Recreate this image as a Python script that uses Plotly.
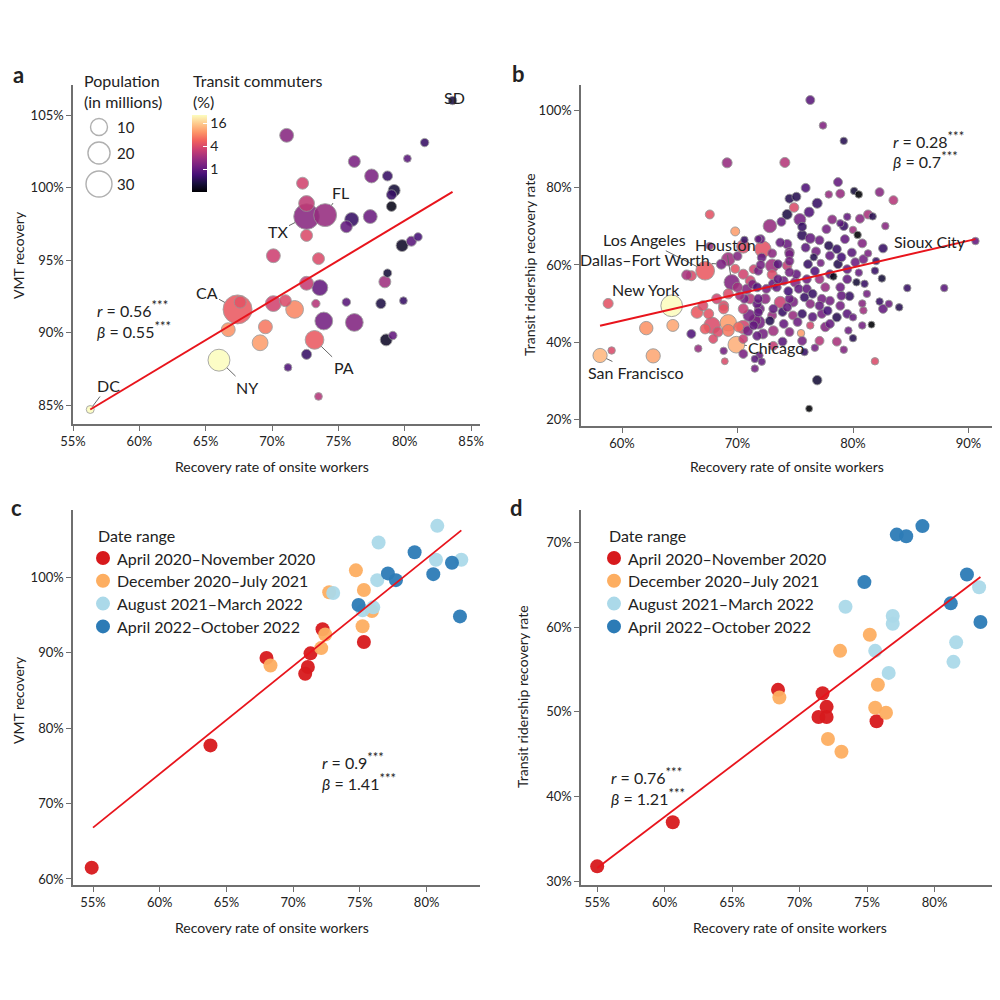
import numpy as np
import plotly.graph_objects as go

FONT = "Lato"
TXT = "#222222"
AXC = "#6f6f6f"

# ---------------- Panel a : states ----------------
a_state = ["SD", "", "", "", "", "", "", "", "", "", "", "", "TX", "FL", "", "", "", "", "", "", "",
           "", "", "", "", "", "", "", "", "", "", "", "", "", "CA", "", "", "", "", "", "", "PA",
           "", "", "", "NY", "", "", "DC"]
a_onsite = [83.6, 81.5, 80.2, 71.1, 76.2, 77.5, 78.7, 79.2, 79.0, 79.0, 72.3, 72.6, 72.6, 74.0, 76.0,
            75.6, 77.4, 72.6, 70.1, 73.5, 79.8, 80.5, 81.0, 78.7, 78.5, 72.6, 73.6, 73.3, 75.6, 78.2,
            79.9, 70.1, 71.0, 71.7, 67.4, 67.6, 66.7, 69.5, 69.1, 73.9, 76.2, 73.2, 72.6, 78.6, 79.1,
            66.0, 71.2, 73.5, 56.3]
a_vmt = [106.0, 103.1, 102.0, 103.6, 101.8, 100.8, 100.8, 99.8, 99.5, 98.7, 100.3, 98.9, 98.0, 98.1,
         97.8, 97.3, 98.0, 96.7, 95.3, 95.1, 96.0, 96.3, 96.6, 94.1, 93.5, 93.4, 93.1, 92.0, 92.1, 92.0,
         92.2, 92.0, 92.2, 91.6, 91.6, 92.1, 90.2, 90.4, 89.3, 90.8, 90.7, 89.5, 88.5, 89.5, 89.8, 88.1,
         87.6, 85.6, 84.7]
a_pop = [0.9, 0.9, 0.6, 5.6, 3.5, 5.6, 1.9, 3.5, 1.9, 1.9, 3.5, 8.2, 29.0, 22.0, 5.6, 3.5, 5.6, 3.5,
         5.6, 3.5, 3.5, 1.9, 0.9, 0.9, 3.5, 5.6, 8.2, 0.9, 0.9, 1.9, 0.6, 8.2, 3.5, 11.3, 39.0, 3.5,
         5.6, 5.6, 8.2, 11.3, 11.3, 13.0, 1.9, 3.5, 0.9, 19.6, 0.6, 0.6, 0.7]
a_transit = [0.45, 0.6, 0.9, 1.5, 1.3, 1.3, 0.6, 0.4, 0.6, 0.3, 3.5, 2.8, 1.5, 1.8, 0.6, 1.0, 1.1, 4.0,
             3.3, 4.0, 0.35, 0.9, 0.7, 0.4, 2.0, 3.0, 1.0, 2.5, 0.9, 0.45, 0.6, 3.5, 4.0, 8.0, 5.0, 4.5,
             9.0, 7.0, 10.0, 1.2, 1.4, 5.0, 0.6, 0.35, 1.0, 28.0, 0.8, 2.5, 30.0]
a_fit_x = [56.3, 83.6]
a_fit_y = [84.7, 99.7]
STARS = "<sup><span style='font-size:13px'>***</span></sup>"
a_stats = ["<i>r</i> = 0.56" + STARS, "<i>β</i> = 0.55" + STARS]

# ---------------- Panel b : metro areas ----------------
b_city = {"Los Angeles": 111, "Houston": 114, "Dallas–Fort Worth": 110, "New York": 122,
          "San Francisco": 135, "Chicago": 132, "Sioux City": 39}
b_onsite = [76.3, 77.4, 79.2, 74.1, 78.7, 75.9, 77.9, 78.9, 80.1, 80.5, 82.3, 83.5, 74.5, 75.1, 76.9,
            74.9, 74.3, 75.4, 76.2, 73.8, 81.3, 81.7, 82.8, 78.2, 78.9, 79.2, 80.0, 80.4, 72.8, 72.0,
            75.6, 76.3, 77.1, 79.3, 80.8, 82.6, 78.0, 77.2, 79.9, 90.6, 74.3, 74.5, 72.2, 73.7, 74.5,
            76.1, 77.1, 78.0, 78.7, 79.5, 80.2, 80.9, 81.9, 79.5, 80.3, 81.0, 78.9, 79.7, 77.6, 78.0,
            77.3, 78.6, 79.5, 80.0, 80.9, 81.6, 80.8, 77.6, 76.3, 78.6, 75.5, 75.8, 81.9, 76.9, 76.2,
            84.7, 87.9, 82.6, 83.1, 84.0, 71.9, 71.5, 74.0, 74.8, 75.6, 73.7, 74.5, 75.8, 71.5, 73.0,
            70.5, 70.6, 71.7, 72.5, 73.4, 74.0, 75.1, 74.5, 73.0, 71.4, 74.3, 75.3, 76.0, 72.1, 78.6,
            67.6, 69.8, 67.6, 71.8, 69.2, 68.6, 67.2, 66.0, 65.6, 69.5, 71.1, 70.5, 71.8, 70.2, 68.8,
            67.5, 66.5, 64.3, 58.8, 64.4, 62.1, 67.8, 69.2, 69.2, 68.3, 70.1, 66.0, 69.9, 66.6, 68.9,
            58.1, 59.1, 62.7, 71.0, 71.8, 71.8, 71.4, 69.1,
            70.5, 73.5, 74.5, 73.5, 71.3, 73.1, 74.4, 76.0, 76.7, 77.3, 76.3, 74.8, 72.4, 71.9, 73.1,
            73.9, 75.2, 76.5, 77.1, 77.8, 78.9, 78.0, 74.5, 73.1, 72.2, 73.9, 73.1, 75.6, 77.1, 72.1,
            71.1, 70.5, 71.8, 70.8, 71.7, 70.0, 69.2, 68.2, 68.8, 67.0, 70.9, 71.7, 70.5, 67.9, 67.2,
            68.8, 71.5, 70.5, 75.6, 77.7, 79.5, 80.6, 76.8, 75.9, 77.9, 81.3, 82.0, 79.0, 80.5, 82.5,
            81.2, 79.0, 82.3, 80.8, 76.5, 75.0, 73.0, 72.0, 69.8, 70.0, 70.6, 73.0, 76.6, 78.3, 72.8,
            74.3, 79.6, 80.0, 76.7, 79.2]
b_ridership = [102.8, 96.2, 92.2, 86.6, 81.5, 80.0, 78.3, 78.5, 79.2, 78.3, 78.9, 76.8, 77.2, 77.7,
               76.0, 74.9, 73.1, 71.8, 73.7, 71.2, 73.1, 72.6, 70.1, 71.8, 70.8, 70.1, 69.1, 67.8,
               70.1, 66.7, 67.7, 66.9, 66.4, 66.7, 65.6, 64.3, 62.4, 60.5, 63.2, 66.2, 65.4, 63.3,
               64.1, 65.8, 62.8, 60.2, 56.3, 57.6, 60.2, 58.9, 60.7, 61.5, 58.5, 56.3, 55.5, 55.1,
               54.2, 51.9, 54.2, 50.7, 47.3, 46.4, 47.3, 46.4, 48.2, 44.5, 44.3, 43.9, 44.3, 40.1,
               42.3, 37.4, 35.0, 30.1, 22.7, 54.0, 54.0, 48.6, 49.9, 49.0, 36.5, 33.1, 44.7, 46.9,
               47.3, 50.3, 51.2, 51.6, 45.6, 46.9, 43.9, 51.2, 49.9, 53.8, 54.2, 55.9, 57.6, 58.1,
               59.8, 58.9, 59.8, 53.8, 53.8, 61.9, 64.1, 73.1, 68.7, 64.9, 66.7, 61.5, 60.2, 58.5,
               57.2, 57.4, 55.5, 55.9, 57.6, 58.5, 52.0, 49.4, 47.3, 47.7, 49.4, 50.0, 44.3, 43.6,
               44.3, 45.0, 43.0, 42.6, 43.9, 42.1, 39.3, 38.3, 35.0, 36.5, 37.8, 36.4, 46.9, 47.7,
               45.1, 44.3, 86.5,
               64.8, 56.3, 61.0, 60.2, 55.0, 55.0, 53.2, 56.3, 58.4, 51.2, 49.9, 50.4, 51.2, 48.6,
               48.6, 47.8, 45.2, 46.5, 49.4, 48.1, 49.4, 44.7, 42.6, 42.9, 42.1, 40.1, 39.0, 40.3,
               40.3, 34.9, 51.2, 48.6, 51.2, 53.7, 54.2, 54.2, 52.5, 51.2, 48.6, 49.4, 42.9, 41.6,
               40.8, 40.8, 43.4, 37.7, 35.6, 36.9, 69.9, 69.3, 72.5, 72.0, 63.5, 64.5, 65.0, 63.0,
               61.0, 62.0, 58.0, 56.5, 52.5, 52.0, 50.5, 50.0, 52.5, 55.5, 57.5, 60.0, 59.0, 62.3,
               66.5, 63.0, 62.0, 57.0, 45.5, 49.0, 43.0, 41.0, 38.5, 38.0]
b_pop = [1.2, 0.5, 0.5, 1.9, 1.2, 1.2, 0.5, 1.2, 0.5, 0.5, 1.2, 1.2, 1.2, 1.2, 1.9, 1.5, 1.9, 3.5,
         1.9, 1.2, 1.2, 0.5, 0.5, 1.2, 0.5, 1.2, 0.5, 0.5, 5.0, 1.2, 1.9, 1.9, 1.2, 1.2, 1.2, 1.2,
         1.2, 0.5, 1.2, 0.5, 1.5, 1.5, 9.0, 1.2, 1.2, 1.2, 1.2, 1.2, 1.2, 1.2, 1.2, 1.2, 0.5, 1.2,
         0.5, 0.5, 1.2, 1.2, 1.2, 1.2, 1.2, 1.2, 1.2, 0.5, 0.5, 0.3, 0.5, 1.5, 0.5, 1.2, 0.5, 0.5,
         0.5, 1.5, 0.3, 0.5, 0.5, 1.2, 0.5, 0.5, 0.5, 0.5, 1.2, 1.2, 1.2, 3.5, 1.2, 1.2, 3.5, 1.2,
         5.0, 1.2, 1.2, 1.2, 1.2, 1.2, 1.2, 1.2, 5.0, 1.2, 1.5, 1.2, 1.2, 1.2, 1.2, 1.2, 1.2, 0.5,
         0.5, 5.0, 1.9, 13.0, 1.9, 1.9, 7.5, 1.9, 1.9, 1.2, 1.2, 1.9, 1.9, 3.5, 19.0, 1.9, 3.5,
         5.0, 9.0, 9.0, 3.5, 1.9, 1.9, 1.2, 9.5, 0.5, 0.3, 6.0, 0.5, 6.0, 3.5, 1.2, 5.0, 1.2, 1.9,
         5.0, 1.2, 1.2, 1.2, 1.2, 1.9, 1.2, 1.2, 1.2, 1.2, 1.2, 1.9, 1.9, 1.9, 1.2, 1.2, 1.2, 1.2,
         1.2, 1.2, 1.2, 1.2, 1.2, 1.9, 1.9, 1.2, 1.2, 1.2, 1.2, 0.5, 1.9, 1.9, 1.2, 1.9, 1.2, 1.9,
         1.9, 1.9, 1.9, 1.9, 1.9, 1.2, 1.2, 1.2, 1.9, 0.5, 0.5, 1.2, 1.2, 1.2, 0.5, 1.2, 1.2, 1.2,
         1.2, 0.5, 0.5, 1.2, 0.5, 0.5, 0.5, 1.2, 0.5, 0.5, 1.2, 1.9, 1.9, 1.2, 1.2, 1.2, 0.5, 1.2,
         0.5, 0.5, 1.2, 1.2, 0.5, 0.5, 0.5, 0.5]
b_transit = [0.9, 1.4, 0.5, 2.5, 1.0, 0.8, 1.8, 1.8, 0.4, 0.25, 1.5, 2.5, 0.5, 0.5, 0.6, 4.0, 0.45,
             1.2, 0.8, 1.0, 2.2, 0.5, 1.5, 1.5, 0.9, 0.6, 2.0, 0.25, 1.8, 1.0, 0.55, 1.0, 1.1, 1.0,
             1.4, 0.6, 1.0, 1.2, 0.9, 1.0, 1.1, 1.3, 4.5, 1.0, 1.2, 0.6, 2.0, 0.9, 0.5, 1.0, 1.1,
             1.2, 0.6, 1.0, 0.4, 0.6, 1.1, 0.6, 1.8, 1.2, 1.2, 0.5, 0.9, 1.0, 2.0, 0.25, 1.2, 1.4,
             3.5, 2.2, 10.0, 0.6, 4.0, 0.4, 0.25, 0.6, 0.9, 1.0, 1.1, 0.5, 1.1, 1.2, 1.0, 1.8, 0.6,
             3.2, 1.1, 0.6, 1.3, 1.8, 3.5, 1.2, 1.0, 1.2, 1.1, 1.2, 1.0, 1.2, 2.0, 3.5, 3.0, 1.0,
             1.0, 1.0, 0.6, 4.5, 10.0, 1.8, 1.0, 2.0, 1.3, 5.0, 4.0, 2.2, 1.4, 3.5, 3.5, 1.2, 2.0,
             4.0, 4.5, 5.0, 28.0, 4.5, 11.0, 9.0, 4.0, 10.0, 7.0, 4.0, 6.0, 0.8, 12.0, 1.8, 4.0,
             13.0, 4.0, 11.0, 1.2, 1.0, 1.2, 1.0, 1.8,
             4.0, 1.0, 1.2, 0.9, 1.3, 1.0, 0.7, 1.1, 0.8, 1.2, 1.5, 1.3, 1.6, 1.2, 1.0, 0.6, 1.1,
             0.9, 1.0, 0.7, 1.2, 1.0, 1.4, 2.0, 1.2, 0.9, 3.0, 1.2, 2.5, 1.0, 2.5, 3.0, 1.0, 1.4,
             0.8, 2.0, 4.0, 3.5, 4.5, 4.0, 1.2, 1.0, 3.0, 4.0, 5.0, 1.2, 0.9, 1.3, 0.6, 1.2, 1.0,
             1.5, 1.2, 0.9, 0.5, 1.3, 0.6, 0.7, 1.0, 0.4, 1.2, 1.0, 0.6, 1.5, 0.6, 1.4, 4.0, 1.2,
             4.5, 1.4, 0.6, 1.6, 0.5, 0.3, 0.5, 1.0, 1.1, 0.5, 1.2, 1.4]
b_fit_x = [58.1, 90.6]
b_fit_y = [44.2, 66.7]
b_stats = ["<i>r</i> = 0.28" + STARS, "<i>β</i> = 0.7" + STARS]

# ---------------- Panels c & d : national monthly ----------------
periods = ["April 2020–November 2020", "December 2020–July 2021",
           "August 2021–March 2022", "April 2022–October 2022"]
period_colors = ["#d7191c", "#fdae61", "#abd9e9", "#2c7bb6"]

c_x = [[54.9, 63.8, 68.0, 71.3, 71.1, 70.9, 72.2, 75.3],
       [68.3, 72.4, 72.1, 72.7, 74.7, 75.3, 75.2, 75.9],
       [73.0, 76.4, 76.3, 75.2, 76.0, 80.8, 80.7, 82.6],
       [74.9, 77.1, 77.7, 79.1, 80.5, 81.9, 82.5]]
c_y = [[61.5, 77.7, 89.3, 89.9, 88.1, 87.2, 93.1, 91.4],
       [88.3, 92.4, 90.6, 98.0, 100.9, 98.3, 93.5, 95.5],
       [97.9, 104.6, 99.6, 95.6, 96.0, 106.8, 102.3, 102.3],
       [96.3, 100.5, 99.6, 103.3, 100.4, 101.9, 94.8]]
c_fit_x = [55.0, 82.6]
c_fit_y = [66.8, 106.2]
c_stats = ["<i>r</i> = 0.9" + STARS, "<i>β</i> = 1.41" + STARS]

d_x = [[55.0, 60.6, 68.4, 71.7, 72.0, 71.4, 72.0, 75.7],
       [68.5, 72.1, 73.1, 73.0, 75.2, 75.8, 75.6, 76.4],
       [73.4, 75.6, 76.6, 76.9, 76.9, 81.6, 81.4, 83.3],
       [74.8, 77.2, 77.9, 79.1, 82.4, 81.2, 83.4]]
d_y = [[31.8, 37.0, 52.6, 52.2, 50.6, 49.4, 49.4, 48.9],
       [51.7, 46.8, 45.3, 57.2, 59.1, 53.2, 50.5, 49.9],
       [62.4, 57.2, 54.6, 61.3, 60.4, 58.2, 55.9, 64.7],
       [65.3, 70.9, 70.7, 71.9, 66.2, 62.8, 60.6]]
d_fit_x = [55.0, 83.4]
d_fit_y = [31.6, 65.9]
d_stats = ["<i>r</i> = 0.76" + STARS, "<i>β</i> = 1.21" + STARS]

x_title = "Recovery rate of onsite workers"
vmt_title = "VMT recovery"
rid_title = "Transit ridership recovery rate"
size_legend_vals = [10, 20, 30]
transit_ticks = [1, 4, 16]

# ---------------- helpers ----------------
W = 992      # figure size; the page's default 8px body margin completes the 1000px window
OFF = 8

def diam(pop):
    return 4.7 + 3.89 * np.sqrt(np.asarray(pop, dtype=float))

def px(x):  # window pixel -> paper x
    return (x - OFF) / W

def py(y):  # window pixel -> paper y
    return 1 - (y - OFF) / W

fig = go.Figure()

# panel a bubbles (largest first)
order = np.argsort(-np.asarray(a_pop), kind="stable")
fig.add_trace(go.Scatter(
    x=np.asarray(a_onsite)[order], y=np.asarray(a_vmt)[order], mode="markers",
    marker=dict(size=diam(np.asarray(a_pop)[order]), sizemode="diameter",
                color=np.log10(np.asarray(a_transit)[order]), coloraxis="coloraxis",
                opacity=0.88, line=dict(color="rgba(150,150,150,0.9)", width=1)),
    xaxis="x", yaxis="y", showlegend=False, hoverinfo="skip"))
fig.add_trace(go.Scatter(x=a_fit_x, y=a_fit_y, mode="lines", line=dict(color="#e8141c", width=2),
                         xaxis="x", yaxis="y", showlegend=False))

# panel b bubbles
order = np.argsort(-np.asarray(b_pop), kind="stable")
fig.add_trace(go.Scatter(
    x=np.asarray(b_onsite)[order], y=np.asarray(b_ridership)[order], mode="markers",
    marker=dict(size=diam(np.asarray(b_pop)[order]), sizemode="diameter",
                color=np.log10(np.asarray(b_transit)[order]), coloraxis="coloraxis",
                opacity=0.88, line=dict(color="rgba(140,140,140,0.9)", width=1)),
    xaxis="x2", yaxis="y2", showlegend=False, hoverinfo="skip"))
fig.add_trace(go.Scatter(x=b_fit_x, y=b_fit_y, mode="lines", line=dict(color="#e8141c", width=2),
                         xaxis="x2", yaxis="y2", showlegend=False))

# panels c, d
for xs, ys, fx, fy, xa, ya in [(c_x, c_y, c_fit_x, c_fit_y, "x3", "y3"),
                               (d_x, d_y, d_fit_x, d_fit_y, "x4", "y4")]:
    for i, name in enumerate(periods):
        fig.add_trace(go.Scatter(x=xs[i], y=ys[i], mode="markers", name=name,
                                 marker=dict(size=14, color=period_colors[i], opacity=0.95),
                                 xaxis=xa, yaxis=ya, showlegend=False))
    fig.add_trace(go.Scatter(x=fx, y=fy, mode="lines", line=dict(color="#e8141c", width=1.8),
                             xaxis=xa, yaxis=ya, showlegend=False))

def axis(domain, rng, tickvals, anchor):
    return dict(domain=domain, range=rng, tickmode="array", tickvals=tickvals,
                ticktext=[f"{v}%" for v in tickvals], anchor=anchor, automargin=False,
                showline=True, linecolor=AXC, linewidth=1.5, ticks="outside", ticklen=5,
                tickwidth=1.3, tickcolor=AXC, showgrid=False, zeroline=False,
                tickfont=dict(family=FONT, size=13, color=TXT))

layout = dict(
    template="none",
    width=W, height=W, margin=dict(l=0, r=0, t=0, b=0, autoexpand=False),
    paper_bgcolor="white", plot_bgcolor="white", font=dict(family=FONT, color=TXT),
    xaxis=axis([px(73), px(480)], [55.0, 85.67], [55, 60, 65, 70, 75, 80, 85], "y"),
    yaxis=axis([py(424), py(85)], [83.7, 107.07], [85, 90, 95, 100, 105], "x"),
    xaxis2=axis([px(581), px(993)], [56.45, 92.12], [60, 70, 80, 90], "y2"),
    yaxis2=axis([py(426), py(85)], [18.2, 106.7], [20, 40, 60, 80, 100], "x2"),
    xaxis3=axis([px(73), px(480)], [53.5, 84.0], [55, 60, 65, 70, 75, 80], "y3"),
    yaxis3=axis([py(885), py(510)], [59.2, 108.9], [60, 70, 80, 90, 100], "x3"),
    xaxis4=axis([px(581), px(993)], [53.8, 84.33], [55, 60, 65, 70, 75, 80], "y4"),
    yaxis4=axis([py(885), py(510)], [29.6, 73.8], [30, 40, 50, 60, 70], "x4"),
    coloraxis=dict(
        colorscale="Magma", cmin=np.log10(0.25), cmax=np.log10(26),
        colorbar=dict(x=px(192), xanchor="left", y=py(115), yanchor="top",
                      len=77, lenmode="pixels", thickness=15, thicknessmode="pixels",
                      outlinewidth=0, xpad=0, ypad=0,
                      tickvals=np.log10(transit_ticks).tolist(),
                      ticktext=[str(t) for t in transit_ticks],
                      ticks="inside", ticklen=4, tickcolor="white",
                      tickfont=dict(family=FONT, size=14, color=TXT))),
)
fig.update_layout(**layout)

ann = []
def text(x, y, s, size=16, xanchor="center", angle=0, bold=False):
    ann.append(dict(x=px(x), y=py(y), xref="paper", yref="paper", text=(f"<b>{s}</b>" if bold else s),
                    showarrow=False, xanchor=xanchor, yanchor="middle", textangle=angle, align="left",
                    font=dict(family=FONT, size=size, color=TXT)))

# panel letters
text(18, 75, "a", 22, bold=True, xanchor="center")
text(518, 73, "b", 22, bold=True, xanchor="center")
text(16, 507, "c", 22, bold=True, xanchor="center")
text(516, 507, "d", 22, bold=True, xanchor="center")

# axis titles
text(272, 466, x_title, 14); text(787, 466, x_title, 14)
text(272, 927, x_title, 14); text(790, 927, x_title, 14)
text(18, 255, vmt_title, 14, angle=-90); text(530, 265, rid_title, 14, angle=-90)
text(18, 700, vmt_title, 14, angle=-90); text(522, 697, rid_title, 14, angle=-90)

# stats
for (x0, y0, stats) in [(95, 308, a_stats), (891, 139, b_stats), (320, 760, c_stats), (609, 775, d_stats)]:
    text(x0, y0, stats[0], xanchor="left")
    text(x0, y0 + 21, stats[1], xanchor="left")

# size legend + colorbar title
text(82, 91, "Population<br>(in millions)", xanchor="left")
text(191, 91, "Transit commuters<br>(%)", xanchor="left")
shapes = []
for v, cy in zip(size_legend_vals, [127, 153, 184]):
    r = diam(v) / 2
    shapes.append(dict(type="circle", xref="paper", yref="paper", x0=px(99 - r), x1=px(99 + r),
                       y0=py(cy + r), y1=py(cy - r), line=dict(color="#b0b0b0", width=1.4)))
    text(115, cy, str(v), 15, xanchor="left")

# date-range legends (c, d)
for (mx, tx0) in [(103, 96), (614, 607)]:
    text(tx0, 535, "Date range", xanchor="left")
    for i, name in enumerate(periods):
        cy = 558 + 22.8 * i
        shapes.append(dict(type="circle", xref="paper", yref="paper", x0=px(mx - 7), x1=px(mx + 7),
                           y0=py(cy + 7), y1=py(cy - 7), fillcolor=period_colors[i],
                           line=dict(width=0)))
        text(mx + 12, cy, name, 16, xanchor="left")

# point labels with leader lines
def label(xv, yv, s, ax, ay, xa, ya, arrow=True, standoff=0):
    ann.append(dict(x=xv, y=yv, xref=xa, yref=ya, text=s, showarrow=arrow, ax=ax, ay=ay,
                    arrowhead=0, arrowwidth=1, arrowcolor="#666666", standoff=standoff,
                    xshift=0 if arrow else ax, yshift=0 if arrow else -ay,
                    font=dict(family=FONT, size=16, color=TXT)))

a_off = {"SD": (2, -3, False), "FL": (15, -23, True), "TX": (-29, 15, True), "CA": (-31, -17, True),
         "NY": (28, 27, True), "PA": (29, 28, True), "DC": (18, -24, True)}
for i, s in enumerate(a_state):
    if s:
        ox, oy, arr = a_off[s]
        label(a_onsite[i], a_vmt[i], s, ox, oy, "x", "y", arr, diam(a_pop[i]) / 2 if arr else 0)

b_off = {"Los Angeles": (-61, -31, True), "Houston": (-6, -38, True), "Dallas–Fort Worth": (-76, -5, True),
         "New York": (-26, -16, True), "San Francisco": (35, 17, True), "Chicago": (40, 3, True),
         "Sioux City": (-45, 0, False)}
for s, i in b_city.items():
    ox, oy, arr = b_off[s]
    label(b_onsite[i], b_ridership[i], s, ox, oy, "x2", "y2", arr, diam(b_pop[i]) / 2 if arr else 0)

fig.update_layout(annotations=ann, shapes=shapes)
fig.write_html("out.html")
